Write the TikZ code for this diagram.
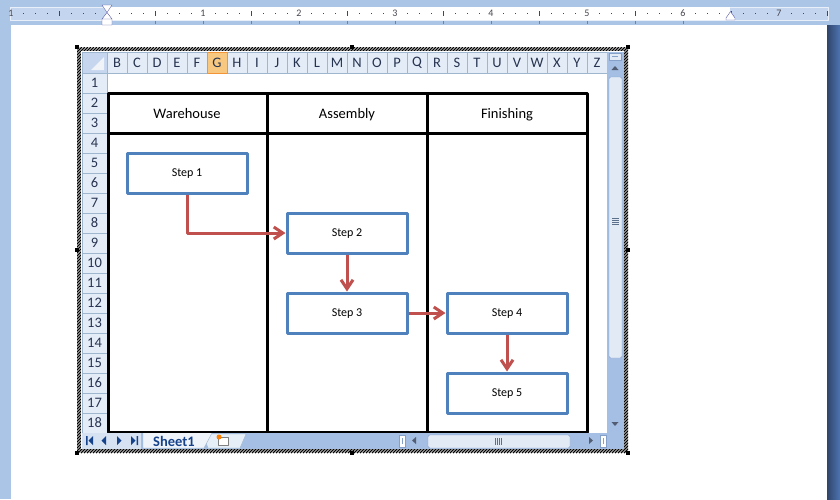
\documentclass[tikz,border=0pt]{standalone}
\usepackage{fontspec}
\setmainfont{Carlito}
\usetikzlibrary{arrows.meta}
\definecolor{barblue}{RGB}{171,197,231}
\definecolor{rulermargin}{RGB}{196,214,239}
\definecolor{rulerline}{RGB}{232,239,249}
\definecolor{rulermark}{RGB}{70,70,80}
\definecolor{darkstrip}{RGB}{78,116,178}
\definecolor{hdrfill}{RGB}{228,236,247}
\definecolor{hdrline}{RGB}{158,182,206}
\definecolor{hdrtext}{RGB}{39,52,80}
\definecolor{selfill}{RGB}{248,200,128}
\definecolor{selline}{RGB}{242,149,54}
\definecolor{cornerfill}{RGB}{197,214,238}
\definecolor{boxblue}{RGB}{79,129,189}
\definecolor{flowred}{RGB}{192,80,77}
\definecolor{tabbar}{RGB}{164,191,227}
\definecolor{tabpale}{RGB}{214,226,242}
\definecolor{tabdark}{RGB}{21,66,139}
\definecolor{thumbfill}{RGB}{226,234,246}
\definecolor{thumbline}{RGB}{132,160,200}
\newcommand{\cellfont}{\fontsize{14.5}{16}\selectfont}
\newcommand{\stepfont}{\fontsize{12}{14}\selectfont}
\newcommand{\rulerfont}{\fontsize{10}{10}\selectfont}
\begin{document}
\begin{tikzpicture}[x=1pt, y=-1pt, line join=round, >={Straight Barb[length=9pt,width=12pt]},
	stepbox/.style={draw=boxblue, line width=3pt, fill=white, minimum width=120pt, minimum height=40pt, inner sep=0pt, text depth=0pt, font=\stepfont},
	lanetitle/.style={font=\cellfont, text depth=0pt},
	lane/.style={line width=3pt},
	flow/.style={->, draw=flowred, line width=3pt},
	hdrcell/.style={fill=hdrfill, draw=hdrline, line width=0.8pt},
	hdrlabel/.style={text=hdrtext, font=\cellfont},
	rulerlabel/.style={text=rulermark, font=\rulerfont},
	navtip/.style={fill=tabdark},
	bartip/.style={fill=hdrtext!80}]
	\useasboundingbox (0,0) rectangle (840,499);
	% window, page and ruler
	\fill[barblue] (0,0) rectangle (840,499);
	\fill[white] (11,25) rectangle (827,499);
	\shade[left color=darkstrip!60!black, right color=darkstrip] (827,25) rectangle (840,499);
	\filldraw[fill=rulermargin, draw=rulerline] (10,7) rectangle (828,20);
	\fill[white] (107,7) rectangle (730,20);
	\foreach \k in {-1,...,7}{
		\foreach \j in {1,2,3,5,6,7}{
			\pgfmathtruncatemacro{\xx}{107+96*\k+12*\j}
			\ifnum\xx<826
			\fill[rulermark] (\xx-0.5,12.5) rectangle ++(1,1.5);
			\fi
		}
		\draw[rulermark, line width=0.8pt] (155+96*\k,11) -- ++(0,5);
	}
	\foreach \k in {1,...,12}
	\draw[gray, line width=0.8pt] (107+48*\k,21) -- ++(0,3);
	\node[rulerlabel] at (11,13.5) {1};
	\foreach \n in {1,...,7}
	\node[rulerlabel] at (107+96*\n,13.5) {\n};
	\filldraw[fill=white, draw=gray!70!blue] (102,5) -- (112,5) -- (107,12.5) -- cycle
	(107,12.5) -- (112,19) -- (102,19) -- cycle
	(102,19) rectangle (112,25);
	\filldraw[fill=white, draw=gray!70!blue] (726,20) -- (726,18) -- (730.5,11.5) -- (735,18) -- (735,20) -- cycle;
	% object frame
	\begin{scope}
		\clip (77,47) rectangle (628,453);
		\foreach \i in {-330,-327,...,630}
		\draw[line width=1.2pt] (\i,453) -- ++(406,-406);
	\end{scope}
	\fill[white] (81,51) rectangle (624,449);
	\foreach \p in {(77,47),(352,47),(628,47),(77,250),(628,250),(77,453),(352,453),(628,453)}
	\fill \p ++(-2,-2) rectangle ++(4,4);
	% sheet headers
	\filldraw[fill=cornerfill, draw=hdrline, line width=0.8pt] (82,52) rectangle (107,73);
	\fill[white!85!hdrline] (91,70) -- (104,70) -- (104,57) -- cycle;
	\foreach \c [count=\i from 0] in {B,C,D,E,F,G,H,I,J,K,L,M,N,O,P,Q,R,S,T,U,V,W,X,Y,Z}
	\path[hdrcell] (107+20*\i,52) rectangle (127+20*\i,73)
	node[hdrlabel, midway] {\c};
	\filldraw[fill=selfill, draw=selline, line width=0.8pt] (207,52) rectangle (227,73)
	node[hdrlabel, midway] {G};
	\foreach \r in {1,...,18}
	\path[hdrcell] (82,53+20*\r) rectangle (107,73+20*\r)
	node[hdrlabel, midway] {\r};
	% swimlanes
	\draw[lane] (108,93) rectangle (587,432);
	\draw[lane] (108,133) -- (587,133)
	(267,93) -- (267,432)
	(427,93) -- (427,432);
	\node[lanetitle] (whouse) at (187,113) {Warehouse};
	\node[lanetitle] (assem) at (347,113) {Assembly};
	\node[lanetitle] (finish) at (507,113) {Finishing};
	\node[stepbox] (s1) at (187,173) {Step 1};
	\node[stepbox] (s2) at (347,233) {Step 2};
	\node[stepbox] (s3) at (347,313) {Step 3};
	\node[stepbox] (s4) at (507,313) {Step 4};
	\node[stepbox] (s5) at (507,393) {Step 5};
	\draw[flow] (s1.south) |- (s2.west);
	\draw[flow] (s2) -- (s3);
	\draw[flow] (s3) -- (s4);
	\draw[flow] (s4) -- (s5);
	% vertical scroll bar
	\fill[tabbar] (607,52) rectangle (624,449);
	\filldraw[fill=thumbfill, draw=thumbline] (609,53) rectangle (621,60);
	\draw[thumbline] (612,56.5) -- (618,56.5);
	\fill[bartip] (611.5,70) -- (618.5,70) -- (615,66) -- cycle;
	\filldraw[fill=thumbfill, draw=thumbline, rounded corners=2pt] (609,77) rectangle (622,358);
	\foreach \y in {218,220,222,224}
	\draw[thumbline!70!black] (612,\y) -- (619,\y);
	\fill[bartip] (611.5,422) -- (618.5,422) -- (615,426) -- cycle;
	% sheet tabs
	\fill[tabbar] (82,433) rectangle (607,449);
	\fill[tabpale] (82,433) rectangle (141,449);
	\filldraw[fill=tabpale!60!white, draw=hdrline] (203,434) -- (246,434) -- (240,448) -- (208,448) -- cycle;
	\filldraw[fill=white!60!tabpale, draw=hdrline] (143,433) -- (143,448) -- (204,448) -- (212,433);
	\node[font=\cellfont\bfseries, text=tabdark] (sheet) at (174,441) {Sheet1};
	\filldraw[fill=white, draw=gray] (218,437) rectangle (228,445);
	\fill[orange] (219,437) circle (2.5pt);
	\fill[navtip] (86,436) rectangle (87.5,445) (93,436) -- (93,445) -- (88.5,440.5) -- cycle;
	\fill[navtip] (106,436) -- (106,445) -- (101.5,440.5) -- cycle;
	\fill[navtip] (117,436) -- (117,445) -- (121.5,440.5) -- cycle;
	\fill[navtip] (131,436) -- (131,445) -- (135.5,440.5) -- cycle (136.5,436) rectangle (138,445);
	% horizontal scroll bar
	\filldraw[fill=white, draw=thumbline] (399,435) rectangle (405,447);
	\draw[thumbline] (402,438) -- (402,444);
	\fill[bartip] (416,437) -- (416,444) -- (412,440.5) -- cycle;
	\filldraw[fill=thumbfill, draw=thumbline, rounded corners=2pt] (428,435) rectangle (570,448);
	\foreach \x in {495,497,499,501}
	\draw[thumbline!70!black] (\x,438) -- (\x,445);
	\fill[bartip] (589,437) -- (589,444) -- (593,440.5) -- cycle;
	\filldraw[fill=white, draw=thumbline] (600,435) rectangle (606,447);
	\draw[thumbline] (603,438) -- (603,444);
\end{tikzpicture}
\end{document}
